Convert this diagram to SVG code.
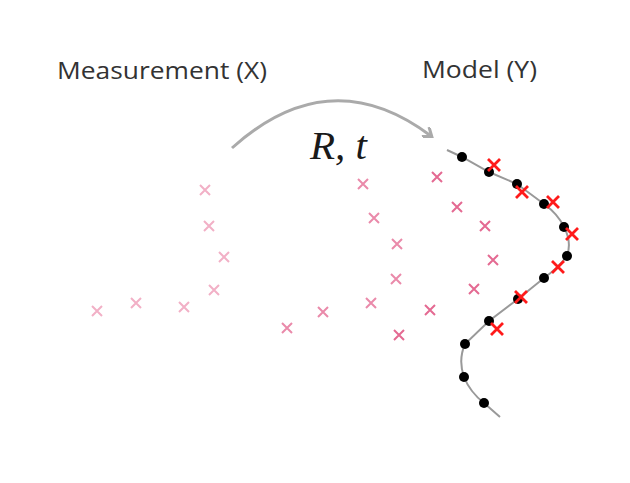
<svg xmlns="http://www.w3.org/2000/svg" width="630" height="483" viewBox="0 0 630 483">
<defs>
<style>
.lbl{font-family:"Open Sans","Liberation Sans",sans-serif;font-size:23px;fill:#333}
.math{font-family:"Liberation Serif","DejaVu Serif",serif;font-style:italic;font-size:41px;fill:#1a1a1a}
.x1{stroke:#f2b0c6;stroke-width:2;fill:none}
.x2{stroke:#ea8aaa;stroke-width:2;fill:none}
.x3{stroke:#e46a92;stroke-width:2;fill:none}
.xr{stroke:#ff1a1a;stroke-width:2.8;fill:none}
.dot{fill:#000}
</style>
<path id="x" d="M-5,-5L5,5M-5,5L5,-5"/>
<path id="xb" d="M-6,-6L6,6M-6,6L6,-6"/>
<marker id="ah" markerWidth="12" markerHeight="12" refX="8" refY="6" orient="auto" markerUnits="userSpaceOnUse">
<path d="M1,0L9,6L1,12" fill="none" stroke="#aaa" stroke-width="3"/>
</marker>
</defs>
<rect width="630" height="483" fill="#fff"/>
<g id="label-measurement"><text class="lbl" x="57" y="79" textLength="210" lengthAdjust="spacingAndGlyphs">Measurement (X)</text></g>
<g id="label-model"><text class="lbl" x="422" y="78" textLength="115" lengthAdjust="spacingAndGlyphs">Model (Y)</text></g>
<g id="connectors">
<path d="M232,148 Q330,60 431,136" fill="none" stroke="#aaa" stroke-width="3" marker-end="url(#ah)"/>
</g>
<g id="label-rt"><text class="math" x="310" y="159">R, t</text></g>
<g id="measurement-1">
<use href="#x" class="x1" x="205" y="190"/>
<use href="#x" class="x1" x="209" y="226"/>
<use href="#x" class="x1" x="224" y="257"/>
<use href="#x" class="x1" x="214" y="290"/>
<use href="#x" class="x1" x="184" y="307"/>
<use href="#x" class="x1" x="136" y="303"/>
<use href="#x" class="x1" x="97" y="311"/>
</g>
<g id="measurement-2">
<use href="#x" class="x2" x="363" y="184"/>
<use href="#x" class="x2" x="374" y="218"/>
<use href="#x" class="x2" x="397" y="244"/>
<use href="#x" class="x2" x="396" y="279"/>
<use href="#x" class="x2" x="371" y="303"/>
<use href="#x" class="x2" x="323" y="312"/>
<use href="#x" class="x2" x="287" y="328"/>
</g>
<g id="measurement-3">
<use href="#x" class="x3" x="437" y="177"/>
<use href="#x" class="x3" x="457" y="207"/>
<use href="#x" class="x3" x="485" y="226"/>
<use href="#x" class="x3" x="493" y="260"/>
<use href="#x" class="x3" x="474" y="289"/>
<use href="#x" class="x3" x="430" y="310"/>
<use href="#x" class="x3" x="399" y="335"/>
</g>
<g id="model">
<path d="M447,150 L462,157 L489,172 L517,184 L544,204 Q558,214 564,227 Q572,242 567,256 Q558,268 544,278 L518,299 L489,321 L465,344 Q458,360 464,377 Q470,392 484,403 L500,417" fill="none" stroke="#999" stroke-width="2"/>
<circle class="dot" cx="462" cy="157" r="5"/>
<circle class="dot" cx="489" cy="172" r="5"/>
<circle class="dot" cx="517" cy="184" r="5"/>
<circle class="dot" cx="544" cy="204" r="5"/>
<circle class="dot" cx="564" cy="227" r="5"/>
<circle class="dot" cx="567" cy="256" r="5"/>
<circle class="dot" cx="544" cy="278" r="5"/>
<circle class="dot" cx="518" cy="299" r="5"/>
<circle class="dot" cx="489" cy="321" r="5"/>
<circle class="dot" cx="465" cy="344" r="5"/>
<circle class="dot" cx="464" cy="377" r="5"/>
<circle class="dot" cx="484" cy="403" r="5"/>
</g>
<g id="aligned">
<use href="#xb" class="xr" x="494" y="165"/>
<use href="#xb" class="xr" x="522" y="192"/>
<use href="#xb" class="xr" x="553" y="202"/>
<use href="#xb" class="xr" x="572" y="234"/>
<use href="#xb" class="xr" x="558" y="267"/>
<use href="#xb" class="xr" x="521" y="297"/>
<use href="#xb" class="xr" x="497" y="329"/>
</g>
</svg>
